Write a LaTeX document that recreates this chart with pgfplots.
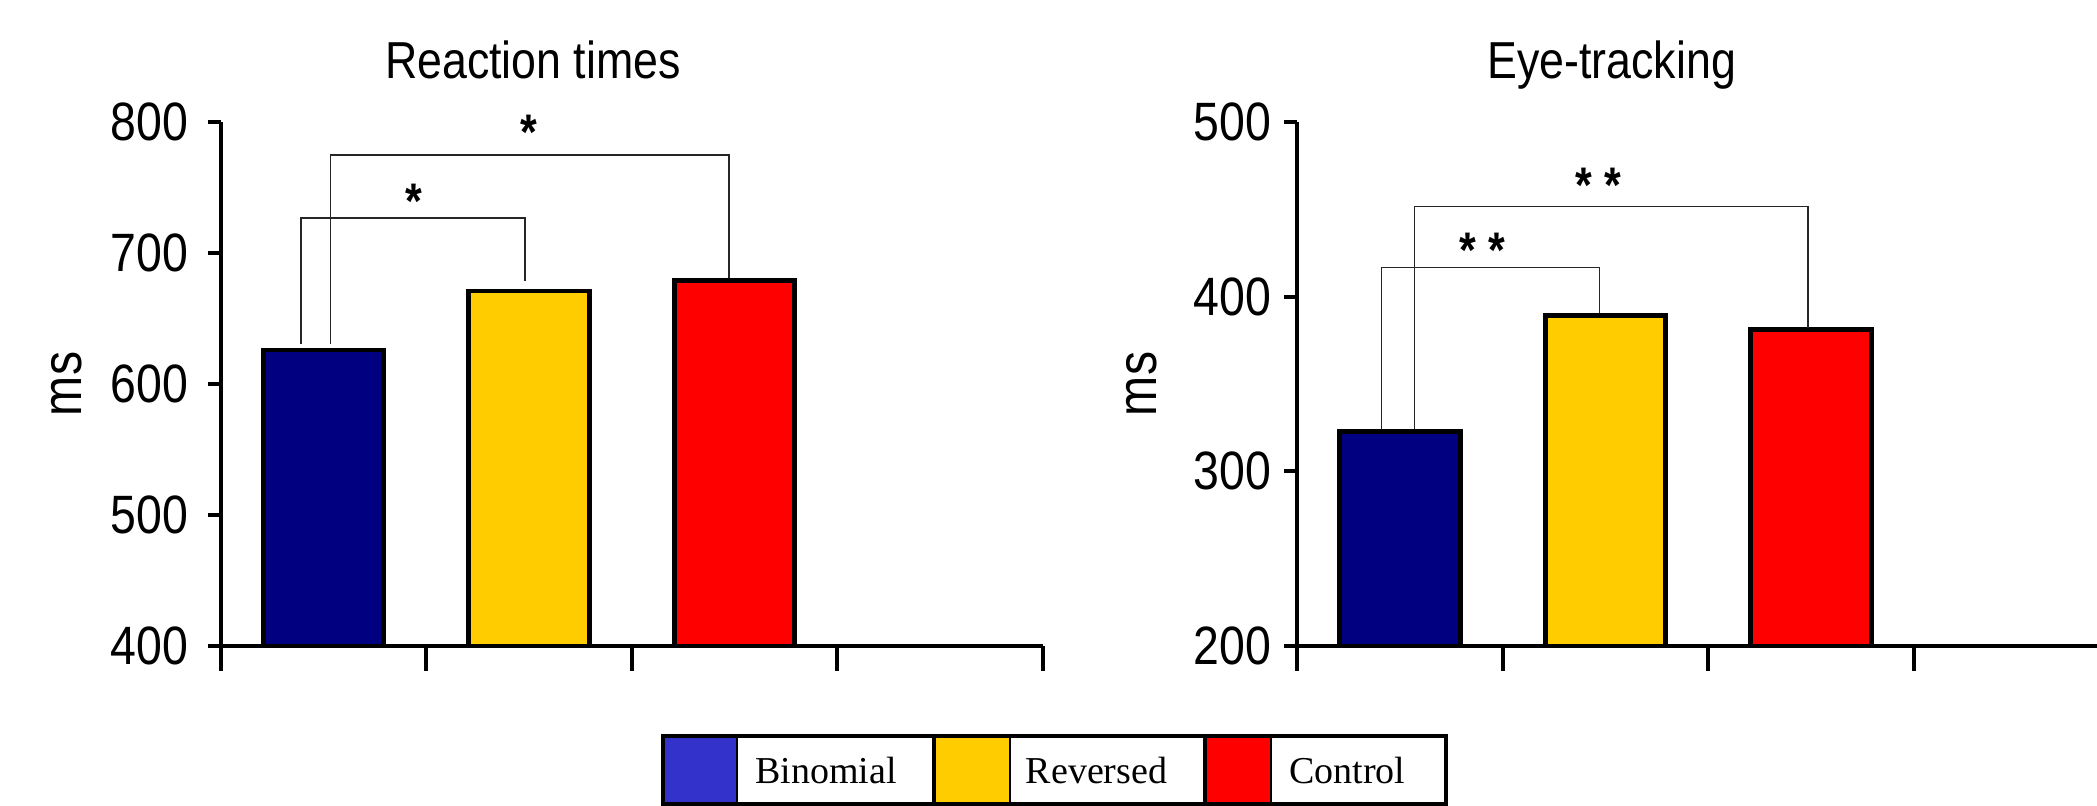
\documentclass[border=0pt]{standalone}
\usepackage{fontspec}
\usepackage{pgfplots}
\pgfplotsset{compat=1.18}
\setmainfont{Liberation Serif}
\newfontfamily\arialn[FakeStretch=0.86]{Liberation Sans}
\newcommand{\lbl}{\arialn\fontsize{27}{27}\selectfont}
\newcommand{\ttl}{\arialn\fontsize{26}{26}\selectfont}
\newcommand{\msl}{\arialn\fontsize{28}{28}\selectfont}
\newcommand{\stf}{\arialn\bfseries\fontsize{25}{25}\selectfont}
\definecolor{navy}{RGB}{0,0,128}
\definecolor{legblue}{RGB}{51,51,204}
\definecolor{myyellow}{RGB}{255,204,0}
\definecolor{myred}{RGB}{255,0,0}
\tikzset{brk/.style={line width=0.8pt, black!85}}
\pgfplotsset{
  panel/.style={
    scale only axis, width=411pt, height=262pt,
    xmin=0, xmax=4,
    axis x line*=bottom, axis y line*=left,
    xtick={0,1,2,3,4}, xticklabels={},
    tick align=outside, major tick length=6.5pt,
    xtick style={/pgfplots/major tick length=12.5pt},
    tick style={line width=2pt, black},
    axis line style={line width=2pt, black},
    /pgf/number format/assume math mode=true,
    yticklabel style={font=\lbl, inner sep=0pt},
    clip mode=individual,
    ybar, bar width=0.587,
  },
  mybar/.style={draw=black, line width=2.4pt, fill=#1, bar shift=0pt},
}
\begin{document}
\begin{tikzpicture}
% Left panel
\begin{axis}[panel, at={(110.35pt,80pt)}, anchor=south west,
  ymin=400, ymax=800, ytick={400,500,600,700,800},
  yticklabel style={xshift=-9.6pt}]
\addplot[mybar=navy] coordinates {(0.5,626)};
\addplot[mybar=myyellow] coordinates {(1.5,671)};
\addplot[mybar=myred] coordinates {(2.5,679)};
\draw[brk] (axis cs:0.39,630.5) -- (axis cs:0.39,726.7) -- (axis cs:1.48,726.7) -- (axis cs:1.48,678.6);
\draw[brk] (axis cs:0.535,630.5) -- (axis cs:0.535,774.8) -- (axis cs:2.474,774.8) -- (axis cs:2.474,680.7);
\node[font=\stf, anchor=base, yshift=-13.3pt, inner sep=0pt] at (axis cs:0.94,747) {*};
\node[font=\stf, anchor=base, yshift=-13.3pt, inner sep=0pt] at (axis cs:1.50,799) {*};
\end{axis}
% Right panel
\begin{axis}[panel, at={(648.65pt,80pt)}, anchor=south west,
  ymin=200, ymax=500, ytick={200,300,400,500},
  yticklabel style={xshift=-6.4pt}]
\addplot[mybar=navy] coordinates {(0.5,323)};
\addplot[mybar=myyellow] coordinates {(1.5,389)};
\addplot[mybar=myred] coordinates {(2.5,381)};
\draw[brk] (axis cs:0.409,324.4) -- (axis cs:0.409,416.8) -- (axis cs:1.471,416.8) -- (axis cs:1.471,390.6);
\draw[brk] (axis cs:0.571,324.4) -- (axis cs:0.571,451.7) -- (axis cs:2.485,451.7) -- (axis cs:2.485,381.9);
\node[font=\stf, anchor=base, yshift=-13.3pt, inner sep=0pt] at (axis cs:0.902,431.8) {* *};
\node[font=\stf, anchor=base, yshift=-13.3pt, inner sep=0pt] at (axis cs:1.466,469.4) {* *};
\end{axis}
% Titles and y labels
\node[font=\ttl, anchor=base, inner sep=0pt] at (266.5pt,363.85pt) {Reaction times};
\node[font=\ttl, anchor=base, inner sep=0pt] at (805.8pt,363.85pt) {Eye-tracking};
\node[font=\msl, rotate=90, inner sep=0pt] at (33.5pt,211pt) {ms};
\node[font=\msl, rotate=90, inner sep=0pt] at (571pt,211pt) {ms};
% Legend
\fill[legblue] (331.5pt,1pt) rectangle (368.5pt,35pt);
\fill[myyellow] (467pt,1pt) rectangle (505pt,35pt);
\fill[myred] (602.5pt,1pt) rectangle (635.5pt,35pt);
\draw[line width=1pt] (368.5pt,1pt) -- (368.5pt,35pt);
\draw[line width=1pt] (505pt,1pt) -- (505pt,35pt);
\draw[line width=1pt] (635.5pt,1pt) -- (635.5pt,35pt);
\draw[line width=2pt] (467pt,1pt) -- (467pt,35pt);
\draw[line width=2pt] (602.5pt,1pt) -- (602.5pt,35pt);
\draw[line width=2pt] (331.5pt,1pt) rectangle (723pt,35pt);
\node[font=\fontsize{19}{19}\selectfont, anchor=base, inner sep=0pt] at (413pt,11.35pt) {Binomial};
\node[font=\fontsize{19}{19}\selectfont, anchor=base, inner sep=0pt] at (548.25pt,11.35pt) {Reversed};
\node[font=\fontsize{19}{19}\selectfont, anchor=base, inner sep=0pt] at (673.65pt,11.35pt) {Control};
\pgfresetboundingbox
\useasboundingbox (0,0) rectangle (1048.5pt,403pt);
\end{tikzpicture}
\end{document}
